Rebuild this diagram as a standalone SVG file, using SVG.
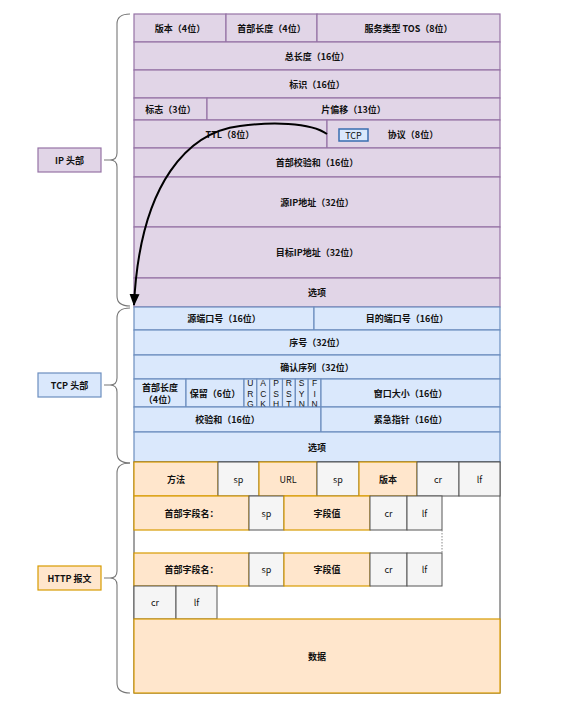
<svg xmlns="http://www.w3.org/2000/svg" width="581" height="704" viewBox="0 0 581 704">
<defs>
<style>
text{font-family:"Noto Sans CJK SC","Noto Sans",sans-serif;font-size:9px;font-weight:bold;fill:#111;text-anchor:middle;dominant-baseline:central}
.ip{fill:#e1d5e7;stroke:#9673a6;stroke-width:1.2}
.tcp{fill:#dae8fc;stroke:#6c8ebf;stroke-width:1.2}
.ht{fill:#ffe6cc;stroke:#d79b00;stroke-width:1.2}
.gr{fill:#f5f5f5;stroke:#555;stroke-width:1}
.brace{fill:none;stroke:#777;stroke-width:1.1}
.n{font-weight:normal}
.fl{font-family:"Liberation Sans",Arial,sans-serif;font-weight:normal;font-size:8.5px}
</style>
<marker id="ah" markerUnits="userSpaceOnUse" markerWidth="12" markerHeight="12" viewBox="0 0 12 12" refX="11" refY="6" orient="auto">
<path d="M0,1 L12,6 L0,11 Z" fill="#000"/>
</marker>
</defs>
<rect width="581" height="704" fill="#fff"/>

<g id="ip-header">
<rect class="ip" x="134" y="14" width="92" height="28"/><text x="180" y="28">版本（4位）</text>
<rect class="ip" x="226" y="14" width="91" height="28"/><text x="271.5" y="28">首部长度（4位）</text>
<rect class="ip" x="317" y="14" width="183" height="28"/><text x="408.5" y="28">服务类型 TOS（8位）</text>
<rect class="ip" x="134" y="42" width="366" height="28"/><text x="317" y="56">总长度（16位）</text>
<rect class="ip" x="134" y="70" width="366" height="28"/><text x="317" y="84">标识（16位）</text>
<rect class="ip" x="134" y="98" width="73" height="22"/><text x="170.5" y="109">标志（3位）</text>
<rect class="ip" x="207" y="98" width="293" height="22"/><text x="353.5" y="109">片偏移（13位）</text>
<rect class="ip" x="134" y="120" width="193" height="28"/><text x="230" y="134">TTL（8位）</text>
<rect class="ip" x="327" y="120" width="173" height="28"/><text x="413" y="134">协议（8位）</text>
<rect class="ip" x="134" y="148" width="366" height="29"/><text x="317" y="162.5">首部校验和（16位）</text>
<rect class="ip" x="134" y="177" width="366" height="50"/><text x="317" y="202">源IP地址（32位）</text>
<rect class="ip" x="134" y="227" width="366" height="51"/><text x="317" y="252.5">目标IP地址（32位）</text>
<rect class="ip" x="134" y="278" width="366" height="29"/><text x="317" y="292.5">选项</text>
</g>

<g id="tcp-tag">
<rect x="339" y="129" width="29" height="12" fill="#dae8fc" stroke="#3a6db0" stroke-width="1.5"/><text class="n" x="353.5" y="135">TCP</text>
</g>

<g id="tcp-header">
<rect class="tcp" x="134" y="307" width="180" height="23"/><text x="224" y="318.5">源端口号（16位）</text>
<rect class="tcp" x="314" y="307" width="186" height="23"/><text x="407" y="318.5">目的端口号（16位）</text>
<rect class="tcp" x="134" y="330" width="366" height="25"/><text x="317" y="342.5">序号（32位）</text>
<rect class="tcp" x="134" y="355" width="366" height="24"/><text x="317" y="367">确认序列（32位）</text>
<rect class="tcp" x="134" y="379" width="52" height="28"/><text x="160" y="387.5">首部长度</text><text x="160" y="399">（4位）</text>
<rect class="tcp" x="186" y="379" width="58" height="28"/><text x="215" y="393">保留（6位）</text>
<rect class="tcp" x="244" y="379" width="12.83" height="28"/>
<rect class="tcp" x="256.83" y="379" width="12.83" height="28"/>
<rect class="tcp" x="269.67" y="379" width="12.83" height="28"/>
<rect class="tcp" x="282.5" y="379" width="12.83" height="28"/>
<rect class="tcp" x="295.33" y="379" width="12.83" height="28"/>
<rect class="tcp" x="308.17" y="379" width="12.83" height="28"/>
<text class="fl" x="250.4" y="383">U</text><text class="fl" x="250.4" y="393.5">R</text><text class="fl" x="250.4" y="404">G</text>
<text class="fl" x="263.2" y="383">A</text><text class="fl" x="263.2" y="393.5">C</text><text class="fl" x="263.2" y="404">K</text>
<text class="fl" x="276.1" y="383">P</text><text class="fl" x="276.1" y="393.5">S</text><text class="fl" x="276.1" y="404">H</text>
<text class="fl" x="288.9" y="383">R</text><text class="fl" x="288.9" y="393.5">S</text><text class="fl" x="288.9" y="404">T</text>
<text class="fl" x="301.7" y="383">S</text><text class="fl" x="301.7" y="393.5">Y</text><text class="fl" x="301.7" y="404">N</text>
<text class="fl" x="314.6" y="383">F</text><text class="fl" x="314.6" y="393.5">I</text><text class="fl" x="314.6" y="404">N</text>
<rect class="tcp" x="321" y="379" width="179" height="28"/><text x="410.5" y="393">窗口大小（16位）</text>
<rect class="tcp" x="134" y="407" width="187" height="25"/><text x="227.5" y="419.5">校验和（16位）</text>
<rect class="tcp" x="321" y="407" width="179" height="25"/><text x="410.5" y="419.5">紧急指针（16位）</text>
<rect class="tcp" x="134" y="432" width="366" height="30"/><text x="317" y="447">选项</text>
</g>

<g id="http-message">
<rect x="134" y="462" width="366" height="231" fill="#fff" stroke="#444" stroke-width="1"/>
<rect class="ht" x="134" y="462" width="84" height="34"/><text x="176" y="479">方法</text>
<rect class="gr" x="218" y="462" width="41" height="34"/><text class="n" x="238.5" y="479">sp</text>
<rect class="ht" x="259" y="462" width="58" height="34"/><text class="n" x="288" y="479">URL</text>
<rect class="gr" x="317" y="462" width="42" height="34"/><text class="n" x="338" y="479">sp</text>
<rect class="ht" x="359" y="462" width="58" height="34"/><text x="388" y="479">版本</text>
<rect class="gr" x="417" y="462" width="42" height="34"/><text class="n" x="438" y="479">cr</text>
<rect class="gr" x="459" y="462" width="41" height="34"/><text class="n" x="479.5" y="479">lf</text>

<rect class="ht" x="134" y="496" width="115" height="34"/><text x="191.5" y="513">首部字段名：</text>
<rect class="gr" x="249" y="496" width="35" height="34"/><text class="n" x="266.5" y="513">sp</text>
<rect class="ht" x="284" y="496" width="86" height="34"/><text x="327" y="513">字段值</text>
<rect class="gr" x="370" y="496" width="37" height="34"/><text class="n" x="388.5" y="513">cr</text>
<rect class="gr" x="407" y="496" width="35" height="34"/><text class="n" x="424.5" y="513">lf</text>

<line x1="442" y1="530" x2="442" y2="553" stroke="#888" stroke-width="1" stroke-dasharray="1.5,1.5"/>

<rect class="ht" x="134" y="553" width="115" height="33"/><text x="191.5" y="569.5">首部字段名：</text>
<rect class="gr" x="249" y="553" width="35" height="33"/><text class="n" x="266.5" y="569.5">sp</text>
<rect class="ht" x="284" y="553" width="86" height="33"/><text x="327" y="569.5">字段值</text>
<rect class="gr" x="370" y="553" width="37" height="33"/><text class="n" x="388.5" y="569.5">cr</text>
<rect class="gr" x="407" y="553" width="35" height="33"/><text class="n" x="424.5" y="569.5">lf</text>

<rect class="gr" x="134" y="586" width="42" height="33"/><text class="n" x="155" y="602.5">cr</text>
<rect class="gr" x="176" y="586" width="41" height="33"/><text class="n" x="196.5" y="602.5">lf</text>

<rect class="ht" x="134" y="619" width="366" height="74"/><text x="317" y="656">数据</text>
</g>

<g id="label-ip">
<rect class="ip" x="38" y="148" width="63" height="24"/><text x="69.5" y="160">IP 头部</text>
</g>
<g id="label-tcp">
<rect class="tcp" x="38" y="373" width="63" height="24"/><text x="69.5" y="385">TCP 头部</text>
</g>
<g id="label-http">
<rect class="ht" x="38" y="566" width="63" height="24"/><text x="69.5" y="578">HTTP 报文</text>
</g>

<g id="connectors">
<path class="brace" d="M130,14 Q117,14 117,24 L117,153 Q117,160 110,160 L104,160 M110,160 Q117,160 117,167 L117,296 Q117,306 130,306"/>
<path class="brace" d="M130,308 Q117,308 117,318 L117,378 Q117,385 110,385 L104,385 M110,385 Q117,385 117,392 L117,453 Q117,463 130,463"/>
<path class="brace" d="M130,463 Q117,463 117,473 L117,571 Q117,578 110,578 L104,578 M110,578 Q117,578 117,585 L117,683 Q117,693 130,693"/>
<path d="M327,134 C310,122 270,122 240,126 C190,132 140,180 134,305" fill="none" stroke="#000" stroke-width="2" marker-end="url(#ah)"/>
</g>
</svg>
